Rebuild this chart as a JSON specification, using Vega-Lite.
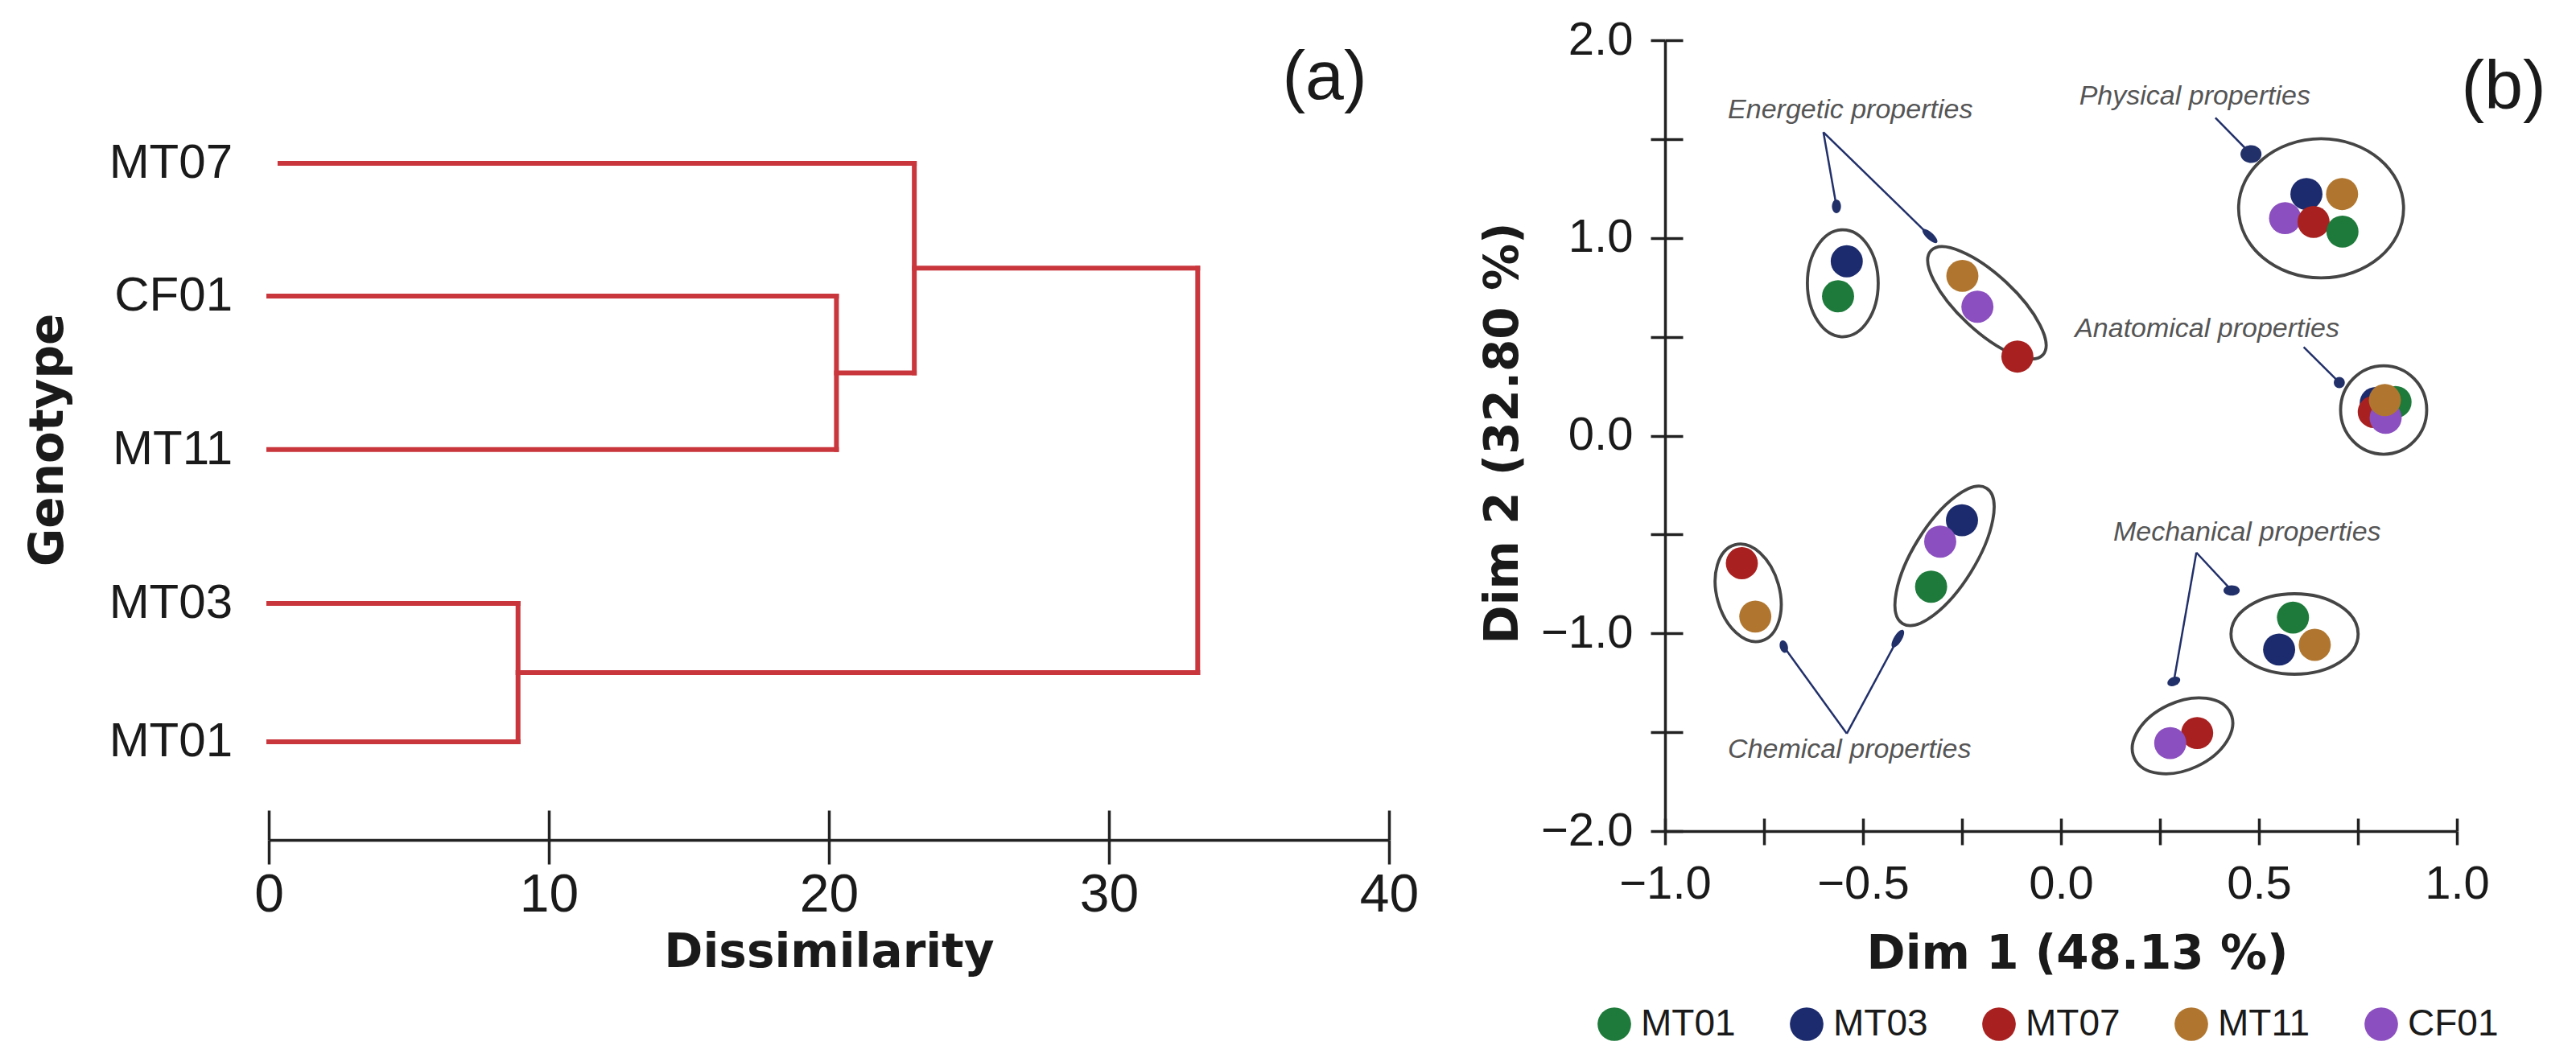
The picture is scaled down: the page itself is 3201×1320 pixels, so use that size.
{
  "$schema": "https://vega.github.io/schema/vega-lite/v6.json",
  "background": "white",
  "autosize": {"type": "pad"},
  "padding": {"left": 31, "top": 21, "right": 0, "bottom": 0},
  "config": {
    "view": {"stroke": null},
    "axis": {"grid": false, "labelFont": "Liberation Sans", "titleFont": "DejaVu Sans"},
    "text": {"font": "Liberation Sans"}
  },
  "spacing": 343,
  "bounds": "flush",
  "hconcat": [
    {
      "width": 1392,
      "height": 994,
      "title": {"text": "Genotype", "orient": "left", "anchor": "middle", "font": "DejaVu Sans", "fontSize": 58, "fontWeight": "bold", "color": "#1a1a1a", "offset": 46},
      "layer": [
        {
          "data": {"values": [
            {"x": 0.4, "x2": 23.05, "y": 1, "y2": 1},
            {"x": 0, "x2": 20.27, "y": 1.918, "y2": 1.918},
            {"x": 0, "x2": 20.27, "y": 2.98, "y2": 2.98},
            {"x": 20.27, "x2": 20.27, "y": 1.918, "y2": 2.98},
            {"x": 20.27, "x2": 23.05, "y": 2.449, "y2": 2.449},
            {"x": 23.05, "x2": 23.05, "y": 1, "y2": 2.449},
            {"x": 23.05, "x2": 33.17, "y": 1.7245, "y2": 1.7245},
            {"x": 0, "x2": 8.9, "y": 4.043, "y2": 4.043},
            {"x": 0, "x2": 8.9, "y": 5, "y2": 5},
            {"x": 8.9, "x2": 8.9, "y": 4.043, "y2": 5},
            {"x": 8.9, "x2": 33.17, "y": 4.5215, "y2": 4.5215},
            {"x": 33.17, "x2": 33.17, "y": 1.7245, "y2": 4.5215}
          ]},
          "mark": {"type": "rule", "color": "#c9373d", "strokeWidth": 6, "strokeCap": "square"},
          "encoding": {
            "x": {"field": "x", "type": "quantitative", "scale": {"domain": [0, 40], "nice": false, "zero": false},
              "axis": {"values": [0, 10, 20, 30, 40], "format": "d", "title": "Dissimilarity", "grid": false,
                "tickSize": 30, "tickWidth": 3.5, "tickColor": "#222", "domainWidth": 3.5, "domainColor": "#222",
                "labelFontSize": 66, "labelColor": "#1a1a1a", "labelPadding": 6, "labelFlush": false, "labelOverlap": false,
                "titleFontSize": 58, "titleFontWeight": "bold", "titleColor": "#1a1a1a", "titleY": 140, "titleBaseline": "middle"}},
            "x2": {"field": "x2"},
            "y": {"field": "y", "type": "quantitative", "scale": {"domain": [0.149, 5.679], "reverse": true, "nice": false, "zero": false}, "axis": null},
            "y2": {"field": "y2"}
          }
        },
        {
          "data": {"values": [
            {"genotype": "MT07", "pos": 1},
            {"genotype": "CF01", "pos": 1.918},
            {"genotype": "MT11", "pos": 2.98},
            {"genotype": "MT03", "pos": 4.043},
            {"genotype": "MT01", "pos": 5}
          ]},
          "mark": {"type": "text", "align": "right", "baseline": "middle", "dx": -45, "fontSize": 60, "color": "#1a1a1a"},
          "encoding": {
            "x": {"datum": 0, "type": "quantitative", "scale": {"domain": [0, 40], "nice": false, "zero": false}, "axis": null},
            "y": {"field": "pos", "type": "quantitative", "scale": {"domain": [0.149, 5.679], "reverse": true, "nice": false, "zero": false}, "axis": null},
            "text": {"field": "genotype"}
          }
        },
        {
          "data": {"values": [{"panel": "(a)", "x": 37.7, "y": 0.41}]},
          "mark": {"type": "text", "align": "center", "baseline": "middle", "fontSize": 86, "color": "#1a1a1a"},
          "encoding": {
            "x": {"field": "x", "type": "quantitative", "scale": {"domain": [0, 40], "nice": false, "zero": false},
              "axis": {"orient": "bottom", "values": [0, 10, 20, 30, 40], "tickSize": -37, "tickWidth": 3.5, "tickColor": "#222",
                "labels": false, "domain": false, "title": null, "grid": false}},
            "y": {"field": "y", "type": "quantitative", "scale": {"domain": [0.149, 5.679], "reverse": true, "nice": false, "zero": false}, "axis": null},
            "text": {"field": "panel"}
          }
        }
      ],
      "resolve": {"axis": {"x": "independent"}}
    },
    {
      "width": 984,
      "height": 983,
      "layer": [
        {
          "mark": {"type": "rule", "strokeDash": [12, 8], "strokeWidth": 3.5, "color": "#111"},
          "encoding": {
            "x": {"datum": 0, "type": "quantitative", "scale": {"domain": [-1, 1], "nice": false, "zero": false}, "axis": null}
          }
        },
        {
          "mark": {"type": "rule", "strokeDash": [12, 8], "strokeWidth": 3.5, "color": "#111"},
          "encoding": {
            "y": {"datum": 0, "type": "quantitative", "scale": {"domain": [-2, 2], "nice": false, "zero": false}, "axis": null}
          }
        },
        {
          "data": {"values": [
            {"grp": "E1", "x": -0.551, "y": 0.771},
            {"grp": "E2", "x": -0.187, "y": 0.672},
            {"grp": "P", "x": 0.657, "y": 1.15},
            {"grp": "A", "x": 0.815, "y": 0.13},
            {"grp": "M1", "x": 0.59, "y": -1.003},
            {"grp": "M2", "x": 0.307, "y": -1.518},
            {"grp": "C1", "x": -0.79, "y": -0.795},
            {"grp": "C2", "x": -0.294, "y": -0.608}
          ]},
          "mark": {"type": "point", "filled": false, "size": 40000, "strokeWidth": 3.8, "color": "#454545", "opacity": 1},
          "encoding": {
            "x": {"field": "x", "type": "quantitative", "scale": {"domain": [-1, 1], "nice": false, "zero": false}, "axis": null},
            "y": {"field": "y", "type": "quantitative", "scale": {"domain": [-2, 2], "nice": false, "zero": false}, "axis": null},
            "shape": {"field": "grp", "type": "nominal", "legend": null, "scale": {
              "domain": ["E1", "E2", "P", "A", "M1", "M2", "C1", "C2"],
              "range": [
                "M 0.44 0 C 0.44 0.3673 0.243 0.665 0 0.665 C -0.243 0.665 -0.44 0.3673 -0.44 0 C -0.44 -0.3673 -0.243 -0.665 0 -0.665 C 0.243 -0.665 0.44 -0.3673 0.44 0 Z",
                "M 0.6948 0.6479 C 0.563 0.7893 0.145 0.6138 -0.2387 0.256 C -0.6224 -0.1018 -0.8266 -0.5065 -0.6948 -0.6479 C -0.563 -0.7893 -0.145 -0.6138 0.2387 -0.256 C 0.6224 0.1018 0.8266 0.5065 0.6948 0.6479 Z",
                "M 1.025 0 C 1.025 0.4777 0.5661 0.865 0 0.865 C -0.5661 0.865 -1.025 0.4777 -1.025 0 C -1.025 -0.4777 -0.5661 -0.865 0 -0.865 C 0.5661 -0.865 1.025 -0.4777 1.025 0 Z",
                "M 0.535 0 C 0.535 0.3038 0.2955 0.55 0 0.55 C -0.2955 0.55 -0.535 0.3038 -0.535 0 C -0.535 -0.3038 -0.2955 -0.55 0 -0.55 C 0.2955 -0.55 0.535 -0.3038 0.535 0 Z",
                "M 0.79 0 C 0.79 0.2762 0.4363 0.5 0 0.5 C -0.4363 0.5 -0.79 0.2762 -0.79 0 C -0.79 -0.2762 -0.4363 -0.5 0 -0.5 C 0.4363 -0.5 0.79 -0.2762 0.79 0 Z",
                "M 0.5982 -0.2789 C 0.6962 -0.0687 0.5079 0.2266 0.1775 0.3806 C -0.1529 0.5346 -0.5002 0.4891 -0.5982 0.2789 C -0.6962 0.0687 -0.5079 -0.2266 -0.1775 -0.3806 C 0.1529 -0.5346 0.5002 -0.4891 0.5982 -0.2789 Z",
                "M 0.1647 0.5977 C -0.043 0.6549 -0.285 0.4337 -0.376 0.1036 C -0.467 -0.2265 -0.3724 -0.5405 -0.1647 -0.5977 C 0.043 -0.6549 0.285 -0.4337 0.376 -0.1036 C 0.467 0.2265 0.3724 0.5405 0.1647 0.5977 Z",
                "M 0.5217 -0.8414 C 0.7024 -0.7293 0.6153 -0.2618 0.3272 0.2029 C 0.0391 0.6676 -0.341 0.9535 -0.5217 0.8414 C -0.7024 0.7293 -0.6153 0.2618 -0.3272 -0.2029 C -0.0391 -0.6676 0.341 -0.9535 0.5217 -0.8414 Z"
              ]}}
          }
        },
        {
          "data": {"values": [
            {"property": "Energetic", "genotype": "MT03", "dim1": -0.541, "dim2": 0.882},
            {"property": "Energetic", "genotype": "MT01", "dim1": -0.563, "dim2": 0.705},
            {"property": "Energetic", "genotype": "MT11", "dim1": -0.249, "dim2": 0.808},
            {"property": "Energetic", "genotype": "CF01", "dim1": -0.211, "dim2": 0.652},
            {"property": "Energetic", "genotype": "MT07", "dim1": -0.11, "dim2": 0.4},
            {"property": "Physical", "genotype": "MT03", "dim1": 0.62, "dim2": 1.222},
            {"property": "Physical", "genotype": "MT11", "dim1": 0.71, "dim2": 1.222},
            {"property": "Physical", "genotype": "CF01", "dim1": 0.566, "dim2": 1.1},
            {"property": "Physical", "genotype": "MT07", "dim1": 0.638, "dim2": 1.081},
            {"property": "Physical", "genotype": "MT01", "dim1": 0.711, "dim2": 1.032},
            {"property": "Anatomical", "genotype": "MT03", "dim1": 0.795, "dim2": 0.165},
            {"property": "Anatomical", "genotype": "MT01", "dim1": 0.845, "dim2": 0.17},
            {"property": "Anatomical", "genotype": "MT07", "dim1": 0.79, "dim2": 0.12},
            {"property": "Anatomical", "genotype": "CF01", "dim1": 0.82, "dim2": 0.09},
            {"property": "Anatomical", "genotype": "MT11", "dim1": 0.818, "dim2": 0.18},
            {"property": "Mechanical", "genotype": "MT01", "dim1": 0.586, "dim2": -0.92},
            {"property": "Mechanical", "genotype": "MT03", "dim1": 0.551, "dim2": -1.082},
            {"property": "Mechanical", "genotype": "MT11", "dim1": 0.641, "dim2": -1.058},
            {"property": "Mechanical", "genotype": "MT07", "dim1": 0.344, "dim2": -1.504},
            {"property": "Mechanical", "genotype": "CF01", "dim1": 0.276, "dim2": -1.555},
            {"property": "Chemical", "genotype": "MT07", "dim1": -0.806, "dim2": -0.645},
            {"property": "Chemical", "genotype": "MT11", "dim1": -0.772, "dim2": -0.915},
            {"property": "Chemical", "genotype": "MT03", "dim1": -0.25, "dim2": -0.428},
            {"property": "Chemical", "genotype": "CF01", "dim1": -0.305, "dim2": -0.536},
            {"property": "Chemical", "genotype": "MT01", "dim1": -0.328, "dim2": -0.764}
          ]},
          "mark": {"type": "point", "filled": true, "size": 1590, "opacity": 1, "strokeWidth": 0},
          "encoding": {
            "x": {"field": "dim1", "type": "quantitative", "scale": {"domain": [-1, 1], "nice": false, "zero": false},
              "axis": {"values": [-1, -0.75, -0.5, -0.25, 0, 0.25, 0.5, 0.75, 1],
                "labelExpr": "abs(datum.value*2 - round(datum.value*2)) < 0.01 ? format(datum.value, '.1f') : ''",
                "title": "Dim 1 (48.13 %)", "grid": false,
                "tickSize": 17, "tickWidth": 3.5, "tickColor": "#222", "domainWidth": 3.5, "domainColor": "#222",
                "labelFontSize": 58, "labelColor": "#1a1a1a", "labelPadding": 20, "labelFlush": false, "labelOverlap": false,
                "titleFontSize": 58, "titleFontWeight": "bold", "titleColor": "#1a1a1a", "titleX": 512, "titleY": 153, "titleBaseline": "middle"}},
            "y": {"field": "dim2", "type": "quantitative", "scale": {"domain": [-2, 2], "nice": false, "zero": false},
              "axis": {"values": [-2, -1.5, -1, -0.5, 0, 0.5, 1, 1.5, 2],
                "labelExpr": "abs(datum.value - round(datum.value)) < 0.01 ? format(datum.value, '.1f') : ''",
                "title": "Dim 2 (32.80 %)", "grid": false,
                "tickSize": 18, "tickWidth": 3.5, "tickColor": "#222", "domainWidth": 3.5, "domainColor": "#222",
                "labelFontSize": 58, "labelColor": "#1a1a1a", "labelPadding": 22, "labelFlush": false, "labelOverlap": false,
                "titleFontSize": 58, "titleFontWeight": "bold", "titleColor": "#1a1a1a",
                "titleX": -201, "titleY": 488, "titleAngle": -90, "titleBaseline": "middle", "titleAlign": "center"}},
            "color": {"field": "genotype", "type": "nominal",
              "scale": {"domain": ["MT01", "MT03", "MT07", "MT11", "CF01"], "range": ["#1d7a3a", "#1c2b6e", "#a8201f", "#b0762f", "#8b4fc0"]},
              "legend": {"orient": "none", "legendX": 1649, "legendY": 1200, "direction": "horizontal", "title": null,
                "symbolType": "circle", "symbolSize": 1735, "symbolStrokeWidth": 0, "symbolOpacity": 1,
                "labelFontSize": 46, "labelFont": "Liberation Sans", "labelColor": "#1a1a1a", "labelOffset": 10, "columnPadding": 65}}
          }
        },
        {
          "data": {"values": [
            {"id": "a1", "x": -0.6, "y": 1.535, "tx": -0.567, "ty": 1.16},
            {"id": "a2", "x": -0.6, "y": 1.535, "tx": -0.331, "ty": 1.01},
            {"id": "a3", "x": 0.39, "y": 1.608, "tx": 0.48, "ty": 1.424},
            {"id": "a4", "x": 0.613, "y": 0.448, "tx": 0.703, "ty": 0.269},
            {"id": "a5", "x": 0.342, "y": -0.591, "tx": 0.431, "ty": -0.783},
            {"id": "a6", "x": 0.342, "y": -0.591, "tx": 0.285, "ty": -1.243},
            {"id": "a7", "x": -0.541, "y": -1.507, "tx": -0.7, "ty": -1.067},
            {"id": "a8", "x": -0.541, "y": -1.507, "tx": -0.412, "ty": -1.027}
          ]},
          "layer": [
            {
              "mark": {"type": "rule", "color": "#22306a", "strokeWidth": 2.5},
              "encoding": {
                "x": {"field": "x", "type": "quantitative", "scale": {"domain": [-1, 1], "nice": false, "zero": false}, "axis": null},
                "y": {"field": "y", "type": "quantitative", "scale": {"domain": [-2, 2], "nice": false, "zero": false}, "axis": null},
                "x2": {"field": "tx"},
                "y2": {"field": "ty"}
              }
            },
            {
              "mark": {"type": "point", "filled": true, "size": 650, "opacity": 1, "color": "#22306a", "strokeWidth": 0},
              "encoding": {
                "x": {"field": "tx", "type": "quantitative", "scale": {"domain": [-1, 1], "nice": false, "zero": false}, "axis": null},
                "y": {"field": "ty", "type": "quantitative", "scale": {"domain": [-2, 2], "nice": false, "zero": false}, "axis": null},
                "shape": {"field": "id", "type": "nominal", "legend": null, "scale": {
                  "domain": ["a1", "a2", "a3", "a4", "a5", "a6", "a7", "a8"],
                  "range": [
                    "M 0 0 L -1.134 -1.832 L 0.442 -2.108 Z",
                    "M 0 0 L -1.98 -0.848 L -0.848 -1.98 Z",
                    "M 0 0 L -1.98 -0.848 L -0.848 -1.98 Z",
                    "M 0 0 L -1.98 -0.848 L -0.848 -1.98 Z",
                    "M 0 0 L -1.98 -0.848 L -0.848 -1.98 Z",
                    "M 0 0 L -0.444 -2.108 L 1.132 -1.832 Z",
                    "M 0 0 L 1.82 1.151 L 0.524 2.089 Z",
                    "M 0 0 L -0.243 2.141 L -1.653 1.383 Z"
                  ]}}
              }
            }
          ]
        },
        {
          "data": {"values": [
            {"label": "Energetic properties", "x": -0.532, "y": 1.648},
            {"label": "Physical properties", "x": 0.338, "y": 1.714},
            {"label": "Anatomical properties", "x": 0.369, "y": 0.539},
            {"label": "Mechanical properties", "x": 0.47, "y": -0.491},
            {"label": "Chemical properties", "x": -0.534, "y": -1.59}
          ]},
          "mark": {"type": "text", "fontStyle": "italic", "fontSize": 34, "color": "#555555", "align": "center", "baseline": "middle"},
          "encoding": {
            "x": {"field": "x", "type": "quantitative", "scale": {"domain": [-1, 1], "nice": false, "zero": false}, "axis": null},
            "y": {"field": "y", "type": "quantitative", "scale": {"domain": [-2, 2], "nice": false, "zero": false}, "axis": null},
            "text": {"field": "label"}
          }
        },
        {
          "data": {"values": [{"panel": "(b)", "x": 1.118, "y": 1.76}]},
          "mark": {"type": "text", "align": "center", "baseline": "middle", "fontSize": 86, "color": "#1a1a1a"},
          "encoding": {
            "x": {"field": "x", "type": "quantitative", "scale": {"domain": [-1, 1], "nice": false, "zero": false},
              "axis": {"orient": "bottom", "values": [-1, -0.75, -0.5, -0.25, 0, 0.25, 0.5, 0.75, 1], "tickSize": -16, "tickWidth": 3.5, "tickColor": "#222",
                "labels": false, "domain": false, "title": null, "grid": false}},
            "y": {"field": "y", "type": "quantitative", "scale": {"domain": [-2, 2], "nice": false, "zero": false},
              "axis": {"orient": "left", "values": [-2, -1.5, -1, -0.5, 0, 0.5, 1, 1.5, 2], "tickSize": -22, "tickWidth": 3.5, "tickColor": "#222",
                "labels": false, "domain": false, "title": null, "grid": false}},
            "text": {"field": "panel"}
          }
        }
      ],
      "resolve": {"axis": {"x": "independent", "y": "independent"}}
    }
  ]
}
